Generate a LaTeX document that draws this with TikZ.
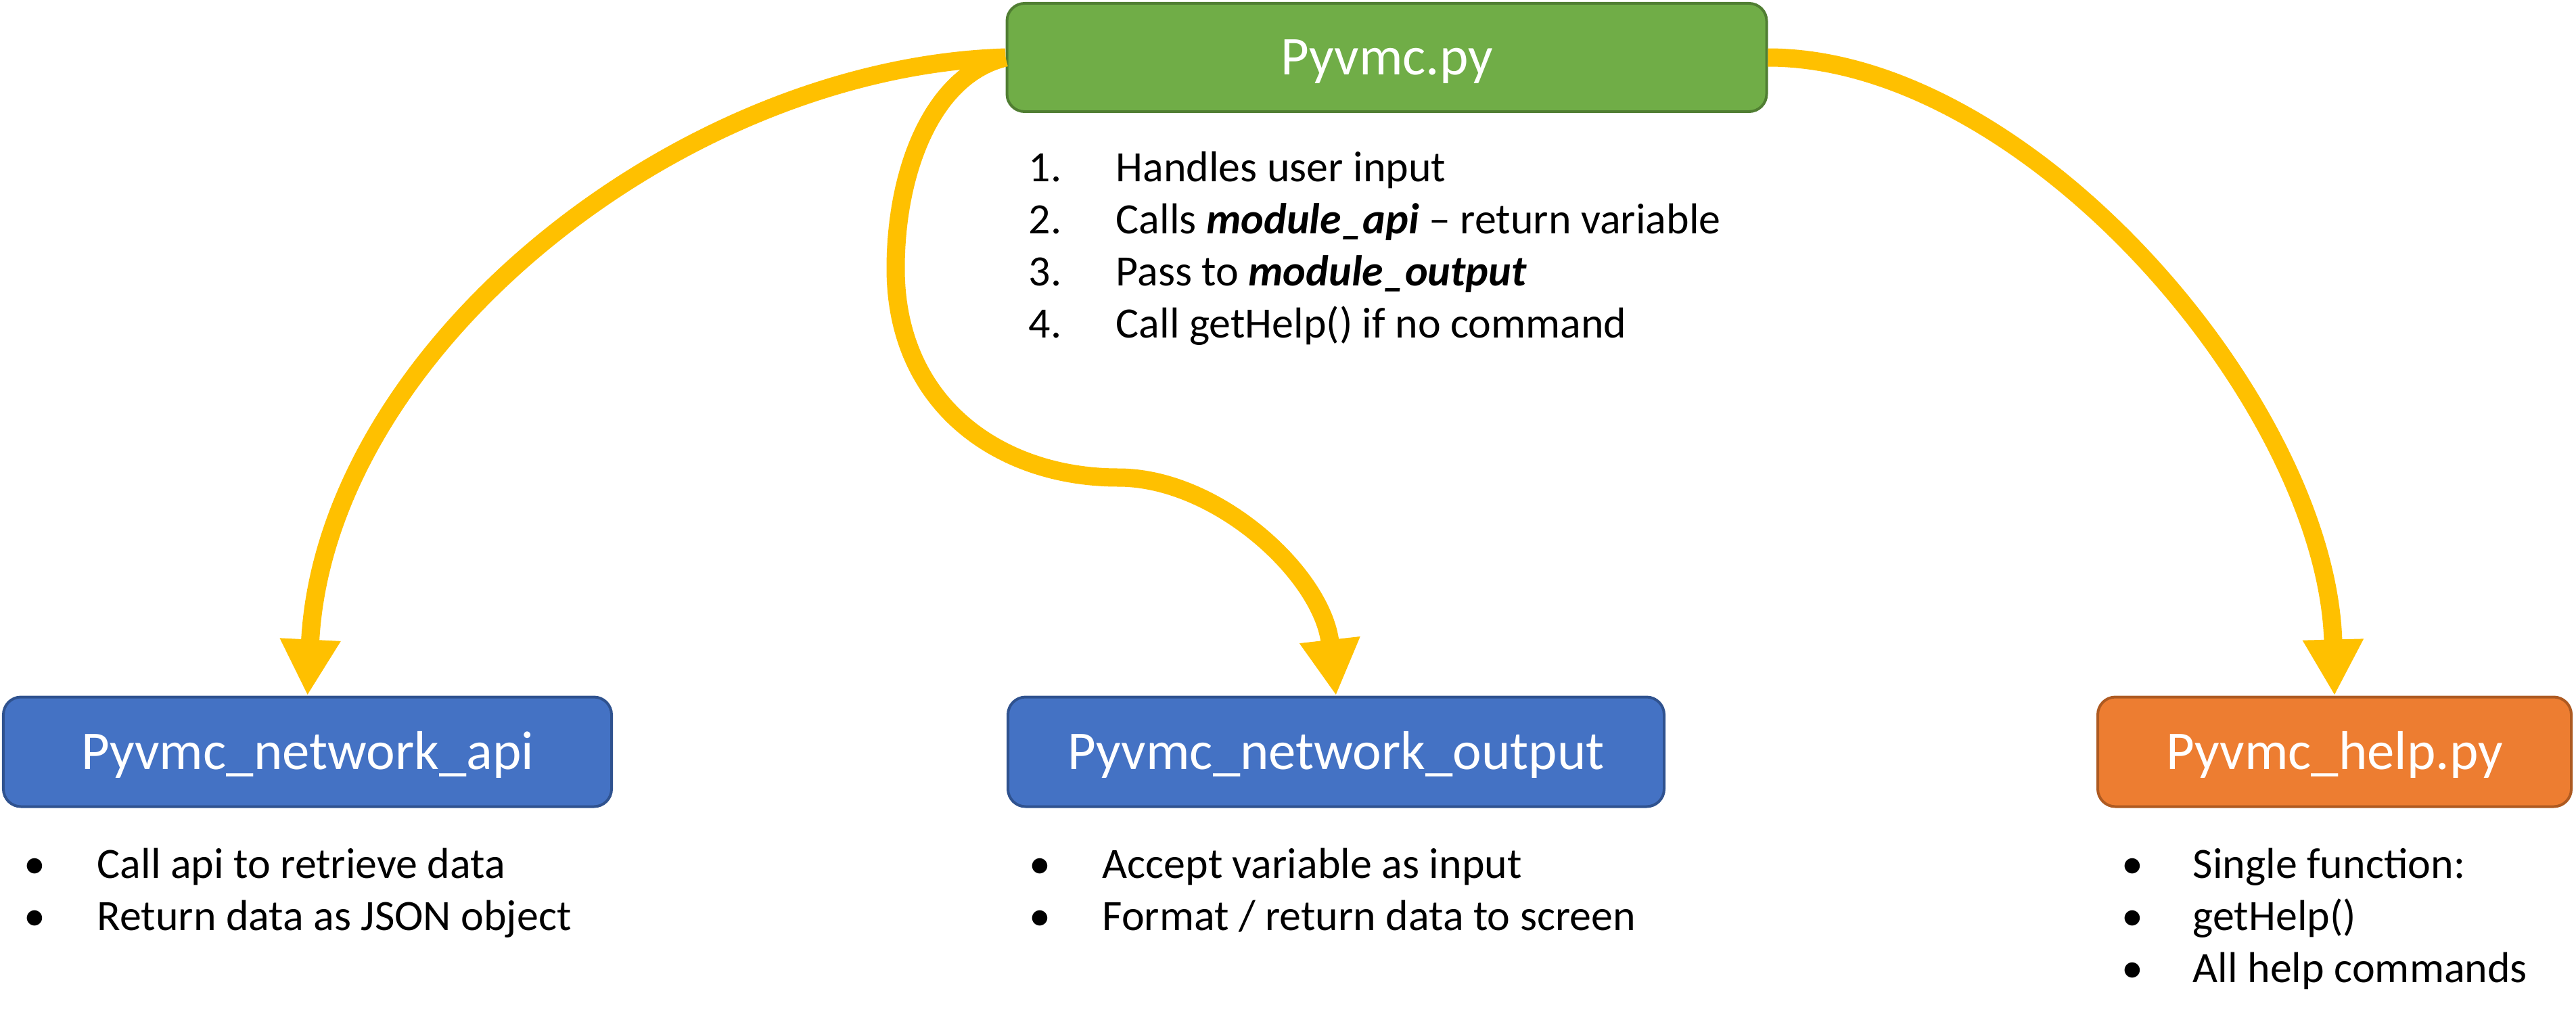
\documentclass[tikz,border=0pt]{standalone}
\usepackage{fontspec}
\setmainfont{Carlito}
\usetikzlibrary{arrows.meta,positioning}
\definecolor{pyyellow}{HTML}{FFC000}
\definecolor{pygreen}{HTML}{70AD47}
\definecolor{pygreenline}{HTML}{507E32}
\definecolor{pyblue}{HTML}{4472C4}
\definecolor{pyblueline}{HTML}{2F528F}
\definecolor{pyorange}{HTML}{ED7D31}
\definecolor{pyorangeline}{HTML}{AE5A21}

\begin{document}
\begin{tikzpicture}[
      modbox/.style={draw, line width=0.04cm, rounded corners=0.26cm,
                  minimum height=1.62cm, text=white,
                  font=\fontsize{23}{28}\selectfont,
                  text height=0.52cm, text depth=0cm},
      items/.style={anchor=base west, align=left, inner sep=0pt,
                  font=\fontsize{18.2}{21.9}\selectfont},
      arr/.style={-{Triangle[length=0.83cm,width=0.84cm]},
                  line width=0.27cm, draw=pyyellow}
  ]
    \useasboundingbox (0,0) rectangle (38.08,-15.07);
    % modules
    \node[modbox, fill=pygreen, draw=pygreenline, minimum width=11.23cm,
          minimum height=1.60cm] (main) at (20.50,-0.85) {Pyvmc.py};
    \node[modbox, fill=pyblue, draw=pyblueline, minimum width=8.99cm]
          (api) at (4.545,-11.115) {Pyvmc\_network\_api};
    \node[modbox, fill=pyblue, draw=pyblueline, minimum width=9.70cm]
          (out) at (19.75,-11.115) {Pyvmc\_network\_output};
    \node[modbox, fill=pyorange, draw=pyorangeline, minimum width=7.00cm]
          (help) at (34.51,-11.115) {Pyvmc\_help.py};
    % notes (anchored on the baseline of the last line)
    \node[items] (mainlist) at (15.20,-4.99)
      {\makebox[1.29cm][l]{1.}Handles user input\\
       \makebox[1.29cm][l]{2.}Calls \textbf{\textit{module\_api}} -- return variable\\
       \makebox[1.29cm][l]{3.}Pass to \textbf{\textit{module\_output}}\\
       \makebox[1.29cm][l]{4.}Call getHelp() if no command};
    \node[items] (apilist) at (0.35,-13.75)
      {\makebox[1.08cm][l]{•}Call api to retrieve data\\
       \makebox[1.08cm][l]{•}Return data as JSON object};
    \node[items] (outlist) at (15.21,-13.75)
      {\makebox[1.08cm][l]{•}Accept variable as input\\
       \makebox[1.08cm][l]{•}Format / return data to screen};
    \node[items] (helplist) at (31.36,-14.52)
      {\makebox[1.05cm][l]{•}Single function:\\
       \makebox[1.05cm][l]{•}getHelp()\\
       \makebox[1.05cm][l]{•}All help commands};
    % calls
    \draw[arr] (main.west) .. controls (10.00,-1.00) and (4.80,-5.20) .. (api.north);
    \draw[arr] (main.west) .. controls (13.80,-1.10) and (13.24,-2.50) .. (13.24,-3.97)
               .. controls (13.24,-6.00) and (14.80,-7.06) .. (16.53,-7.06)
               .. controls (18.00,-7.06) and (19.55,-8.50) .. (out.north);
    \draw[arr] (main.east) .. controls (30.00,-0.85) and (34.40,-6.00) .. (help.north);
  \end{tikzpicture}
\end{document}
